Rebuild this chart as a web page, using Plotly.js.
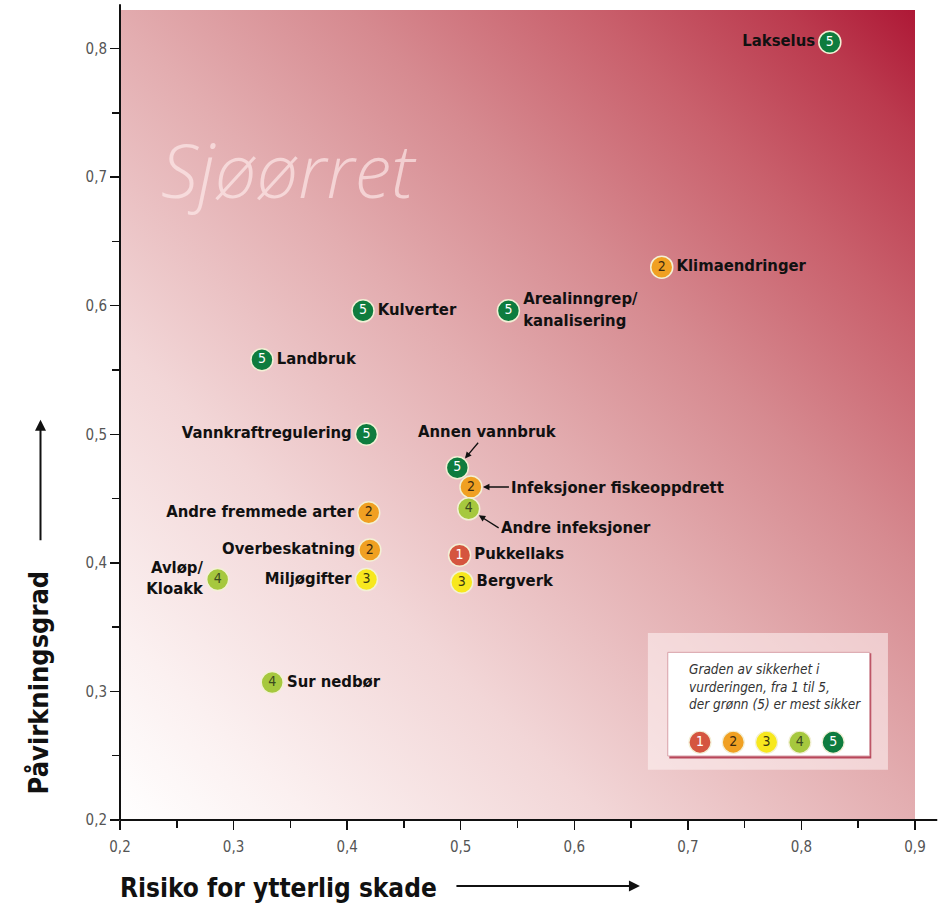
<!DOCTYPE html>
<html>
<head>
<meta charset="utf-8">
<script src="https://cdn.plot.ly/plotly-3.0.1.min.js"></script>
<style>
  html, body { margin: 0; padding: 0; background: #fff; }
  #chart { width: 942px; height: 910px; }
</style>
</head>
<body>
<div id="chart"></div>
<script>
// ======== DATA ========
var names = ['Lakselus', 'Klimaendringer', 'Kulverter', 'Arealinngrep/<br>kanalisering', 'Landbruk',
  'Vannkraftregulering', 'Infeksjoner fiskeoppdrett', 'Annen vannbruk', 'Andre infeksjoner',
  'Andre fremmede arter', 'Overbeskatning', 'Pukkellaks', 'Miljøgifter', 'Bergverk',
  'Avløp/<br>Kloakk', 'Sur nedbør'];
var risk = [0.825, 0.677, 0.414, 0.542, 0.325, 0.417, 0.509, 0.497, 0.507, 0.419, 0.420, 0.499, 0.417, 0.501, 0.286, 0.334];
var impact = [0.805, 0.630, 0.596, 0.596, 0.558, 0.500, 0.459, 0.474, 0.442, 0.439, 0.410, 0.406, 0.387, 0.385, 0.387, 0.307];
var grade = [5, 2, 5, 5, 5, 5, 2, 5, 4, 2, 2, 1, 3, 3, 4, 4];
// where the name goes: left / right of the dot, or 'arrow' for the pointed labels
var labelSide = ['left', 'right', 'right', 'right', 'right', 'left', 'arrow', 'arrow', 'arrow',
  'left', 'left', 'right', 'left', 'right', 'left', 'right'];

var gradeLevels = [1, 2, 3, 4, 5];
var xTicks = [0.2, 0.3, 0.4, 0.5, 0.6, 0.7, 0.8, 0.9];
var yTicks = [0.2, 0.3, 0.4, 0.5, 0.6, 0.7, 0.8];

// ======== STYLE ========
var gradeColor = {1: '#d5553f', 2: '#f0a022', 3: '#f7e81e', 4: '#a6c83e', 5: '#0e7c3e'};
var numberColor = {1: '#ffffff', 2: '#3a2a10', 3: '#3a3a10', 4: '#3c4a20', 5: '#ffffff'};
var FONT = "'DejaVu Sans Condensed', 'Liberation Sans Narrow', sans-serif";

var arrowLabels = {
  'Annen vannbruk': {ax: 30, ay: -36, xanchor: 'center'},
  'Infeksjoner fiskeoppdrett': {ax: 38, ay: 0, xanchor: 'left'},
  'Andre infeksjoner': {ax: 30, ay: 19, xanchor: 'left'}
};

// ======== BACKGROUND GRADIENT ========
function gradientImage() {
  var c = document.createElement('canvas');
  c.width = 795; c.height = 810;
  var ctx = c.getContext('2d');
  var g = ctx.createLinearGradient(0, c.height, c.width, 0);
  g.addColorStop(0, '#ffffff');
  g.addColorStop(0.12, '#fbf0f0');
  g.addColorStop(0.3, '#f2d6d7');
  g.addColorStop(0.5, '#e3adb0');
  g.addColorStop(0.65, '#d68a90');
  g.addColorStop(0.8, '#c9606c');
  g.addColorStop(0.92, '#bb3a4e');
  g.addColorStop(1, '#ae1836');
  ctx.fillStyle = g;
  ctx.fillRect(0, 0, c.width, c.height);
  return c.toDataURL('image/png');
}

// ======== TRACES ========
var dots = {
  x: risk,
  y: impact,
  mode: 'markers+text',
  type: 'scatter',
  text: names.map(function (n, i) { return labelSide[i] == 'arrow' ? '' : n; }),
  textposition: labelSide.map(function (s) { return s == 'left' ? 'middle left' : 'middle right'; }),
  textfont: {family: FONT, size: 16.5, color: '#111', weight: 'bold'},
  marker: {
    size: 22,
    color: grade.map(function (g) { return gradeColor[g]; }),
    line: {color: '#f3f0d6', width: 1.5}
  },
  cliponaxis: false,
  hoverinfo: 'skip'
};

var numbers = {
  x: risk,
  y: impact,
  mode: 'text',
  type: 'scatter',
  text: grade.map(String),
  textposition: 'middle center',
  textfont: {family: FONT, size: 14, color: grade.map(function (g) { return numberColor[g]; })},
  cliponaxis: false,
  hoverinfo: 'skip'
};

// key dots, on their own small hidden axes inside the key box
var keyDots = {
  x: gradeLevels,
  y: gradeLevels.map(function () { return 0.5; }),
  xaxis: 'x2', yaxis: 'y2',
  mode: 'markers+text',
  type: 'scatter',
  text: gradeLevels.map(String),
  textposition: 'middle center',
  textfont: {family: FONT, size: 14, color: gradeLevels.map(function (g) { return numberColor[g]; })},
  marker: {
    size: 22,
    color: gradeLevels.map(function (g) { return gradeColor[g]; }),
    line: {color: '#f3f0d6', width: 1.2}
  },
  cliponaxis: false,
  hoverinfo: 'skip'
};

// ======== ANNOTATIONS & SHAPES ========
var annotations = [];
var shapes = [];

names.forEach(function (n, i) {
  if (labelSide[i] != 'arrow') return;
  var a = arrowLabels[n];
  annotations.push({
    x: risk[i], y: impact[i], xref: 'x', yref: 'y',
    text: n, showarrow: true, ax: a.ax, ay: a.ay, xanchor: a.xanchor, yanchor: 'middle',
    arrowhead: 2, arrowsize: 1, arrowwidth: 1.3, arrowcolor: '#111', standoff: 12,
    font: {family: FONT, size: 16.5, color: '#111', weight: 'bold'}
  });
});

// watermark title
annotations.push({
  x: 0.212, y: 0.803, xref: 'paper', yref: 'paper', xanchor: 'center', yanchor: 'middle',
  text: '<i>Sjøørret</i>', showarrow: false,
  font: {family: "'Open Sans', sans-serif", size: 74, color: 'rgba(255,236,236,0.65)', weight: 300}
});

// axis titles with arrows
annotations.push({
  x: -0.003, y: -0.084, xref: 'paper', yref: 'paper', xanchor: 'left', yanchor: 'middle',
  text: 'Risiko for ytterlig skade', showarrow: false,
  font: {family: FONT, size: 26, color: '#111', weight: 'bold'}
});
annotations.push({
  x: 0.654, y: -0.0815, xref: 'paper', yref: 'paper', text: '', showarrow: true,
  ax: -185, ay: 0, arrowhead: 2, arrowsize: 1.1, arrowwidth: 2, arrowcolor: '#111'
});
annotations.push({
  x: -0.103, y: 0.17, xref: 'paper', yref: 'paper', xanchor: 'center', yanchor: 'middle',
  text: 'Påvirkningsgrad', textangle: -90, showarrow: false,
  font: {family: FONT, size: 27, color: '#111', weight: 'bold'}
});
annotations.push({
  x: -0.1, y: 0.494, xref: 'paper', yref: 'paper', text: '', showarrow: true,
  ax: 0, ay: 122, arrowhead: 2, arrowsize: 1.1, arrowwidth: 2, arrowcolor: '#111'
});

// key box (below the traces, above the gradient)
shapes.push({type: 'rect', xref: 'paper', yref: 'paper', x0: 0.664, x1: 0.966, y0: 0.062, y1: 0.231,
  fillcolor: 'rgba(255,246,246,0.55)', line: {width: 0}, layer: 'below'});
shapes.push({type: 'rect', xref: 'paper', yref: 'paper', x0: 0.691, x1: 0.945, y0: 0.076, y1: 0.206,
  fillcolor: '#b8475a', line: {width: 0}, layer: 'below'});
shapes.push({type: 'rect', xref: 'paper', yref: 'paper', x0: 0.689, x1: 0.943, y0: 0.079, y1: 0.207,
  fillcolor: '#ffffff', line: {color: '#d8a0a8', width: 1}, layer: 'below'});
annotations.push({
  x: 0.713, y: 0.199, xref: 'paper', yref: 'paper', xanchor: 'left', yanchor: 'top', align: 'left',
  text: '<i>Graden av sikkerhet i<br>vurderingen, fra 1 til 5,<br>der grønn (5) er mest sikker</i>',
  showarrow: false, font: {family: FONT, size: 13.5, color: '#333'}
});

// axis lines, running a bit past the plot like the print
shapes.push({type: 'line', xref: 'paper', yref: 'paper', x0: -0.001, x1: 1.028, y0: 0, y1: 0,
  line: {color: '#111', width: 2}});
shapes.push({type: 'line', xref: 'paper', yref: 'paper', x0: 0, x1: 0, y0: 0, y1: 1.007,
  line: {color: '#111', width: 2}});

// ======== LAYOUT ========
var axisCommon = {
  showgrid: false, zeroline: false, showline: false,
  ticks: 'outside', ticklen: 9, tickwidth: 1.5, tickcolor: '#111',
  tickformat: '.1f',
  tickfont: {family: FONT, size: 15, color: '#555'},
  minor: {dtick: 0.05, ticks: 'outside', ticklen: 7, tickwidth: 1.5, tickcolor: '#111'}
};

var layout = {
  width: 942, height: 910,
  margin: {l: 120, r: 27, t: 10, b: 90},
  paper_bgcolor: '#ffffff',
  plot_bgcolor: 'rgba(0,0,0,0)',
  separators: ', ',
  showlegend: false,
  xaxis: Object.assign({}, axisCommon, {range: [0.2, 0.9], tickvals: xTicks, ticklabelstandoff: 4}),
  yaxis: Object.assign({}, axisCommon, {range: [0.2, 0.83], tickvals: yTicks}),
  xaxis2: {domain: [0.7086, 0.918], range: [0.5, 5.5], anchor: 'y2', visible: false, fixedrange: true},
  yaxis2: {domain: [0.08, 0.112], range: [0, 1], anchor: 'x2', visible: false, fixedrange: true},
  images: [{
    source: gradientImage(), xref: 'paper', yref: 'paper', x: 0, y: 1, sizex: 1, sizey: 1,
    sizing: 'stretch', layer: 'below', xanchor: 'left', yanchor: 'top'
  }],
  shapes: shapes,
  annotations: annotations
};

Plotly.newPlot('chart', [dots, numbers, keyDots], layout, {displayModeBar: false, staticPlot: true});
</script>
</body>
</html>
